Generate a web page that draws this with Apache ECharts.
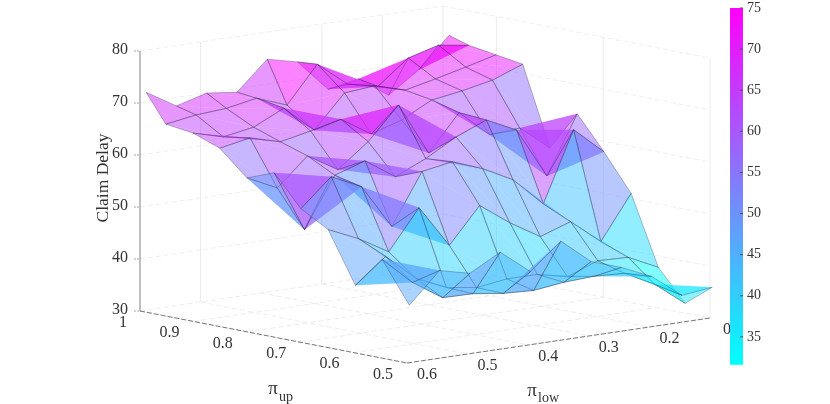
<!DOCTYPE html>
<html>
<head>
<meta charset="utf-8">
<style>html, body { margin: 0; padding: 0; background: #fff; } #chart { width: 830px; height: 404px; }</style>
<script src="https://cdn.jsdelivr.net/npm/echarts@6/dist/echarts.min.js"></script>
</head>
<body>
<div id="chart"></div>
<script>
// surface samples, one row per pi_up value, one column per pi_low value
const piUp = [1, 0.963, 0.912, 0.862, 0.811, 0.76, 0.71, 0.659, 0.608, 0.558, 0.507]
const piLow = [0.59, 0.54, 0.49, 0.44, 0.39, 0.34, 0.29, 0.24, 0.19, 0.14, 0.09]
const row0 = [71.9, 68.4, 70, 69.3, 74.8, 73.4, 67.3, 68.4, 64.4, 68.4, 74.2]
const row1 = [66.5, 67.4, 67.8, 68.9, 66.7, 73.7, 69, 67.7, 72.3, 73.9, 73]
const row2 = [65.8, 64.2, 65.2, 68, 62.9, 69.2, 69.7, 68, 69.3, 70.7, 72.2]
const row3 = [63.9, 65, 63.4, 64.6, 66, 62.3, 64.1, 67.1, 68, 69.2, 71.4]
const row4 = [59.2, 56.4, 61.7, 58.2, 62.7, 68.9, 58.8, 65.7, 60.6, 61, 56.3]
const row5 = [61.2, 49.4, 59, 60.9, 57, 59.6, 62.9, 65.3, 62.5, 52.8, 63.9]
const row6 = [55.3, 60.6, 57.8, 49.3, 59, 60, 57.8, 54.8, 49.3, 62.7, 57.6]
const row7 = [52.3, 49.7, 46.3, 53.9, 45.8, 52.6, 48.4, 44.9, 46.9, 42.2, 50.6]
const row8 = [42.6, 47.3, 42.2, 39.6, 38.7, 39.5, 39.5, 38.2, 40.4, 40.2, 37.4]
const row9 = [48.6, 43.3, 39.5, 39.4, 38.6, 38.3, 39, 39.3, 39, 36, 31.5]
const row10 = [40.8, 46.6, 45.2, 48.4, 43.8, 48.8, 44, 42, 39.4, 34.9, 35.6]
const delay = [row0, row1, row2, row3, row4, row5, row6, row7, row8, row9, row10]

const upTicks = [1, 0.9, 0.8, 0.7, 0.6, 0.5]
const lowTicks = [0.6, 0.5, 0.4, 0.3, 0.2, 0.1]
const lowTickLabels = ['0.6', '0.5', '0.4', '0.3', '0.2', '0']
const delayTicks = [30, 40, 50, 60, 70, 80]
const colorTicks = [35, 40, 45, 50, 55, 60, 65, 70, 75]
const colorMin = 31.6
const colorMax = 75

// fixed view of the box, the same one on every axis
function project (up, low, z) {
  return [
    140 + 606 * (0.6 - low) + 534 * (1 - up),
    311 - 90 * (0.6 - low) + 104 * (1 - up) - 5.2 * (z - 30),
  ]
}

function coolColor (v, alpha) {
  const t = Math.min(1, Math.max(0, (v - colorMin) / (colorMax - colorMin)))
  const r = Math.round(255 * t)
  const g = Math.round(255 * (1 - t))
  return 'rgba(' + r + ',' + g + ',255,' + alpha + ')'
}

// back cells first
const cells = []
for (let i = 0; i < piUp.length - 1; i++) {
  for (let j = 0; j < piLow.length - 1; j++) {
    cells.push([i, j])
  }
}
cells.sort((a, b) => (a[0] - a[1]) - (b[0] - b[1]))

const segments = []
function addSegment (a, b, stroke, lineDash, lineWidth) {
  segments.push({a, b, stroke, lineDash, lineWidth})
}
const faintDash = [5, 3]
delayTicks.forEach(z => {
  if (z > 30) {
    addSegment([1, 0.6, z], [1, 0.1, z], '#f0f0f0', faintDash, 1)
    addSegment([1, 0.1, z], [0.5, 0.1, z], '#f0f0f0', faintDash, 1)
  }
})
;[0.5, 0.3, 0.2, 0.1].forEach(l => addSegment([1, l, 30], [1, l, 80], '#ebebeb', null, 1))
;[0.9, 0.7, 0.5].forEach(u => addSegment([u, 0.1, 30], [u, 0.1, 80], '#ebebeb', null, 1))
upTicks.forEach(u => addSegment([u, 0.6, 30], [u, 0.1, 30], '#ededed', faintDash, 1))
lowTicks.forEach(l => addSegment([1, l, 30], [0.5, l, 30], '#ededed', faintDash, 1))
addSegment([1, 0.6, 30], [1, 0.6, 80], '#808080', null, 1)
addSegment([1, 0.6, 30], [0.5, 0.6, 30], '#777', [5, 2], 1)
addSegment([0.5, 0.6, 30], [0.5, 0.1, 30], '#777', [5, 2], 1)

const texts = []
upTicks.forEach(u => {
  texts.push({at: [u, 0.6, 30], dx: u === 1 ? -17 : -24, dy: 11.5, text: String(u)})
})
lowTicks.forEach((l, k) => {
  texts.push({at: [0.5, l, 30], dx: k === 5 ? 17 : 20, dy: 12, text: lowTickLabels[k]})
})
delayTicks.forEach(z => {
  texts.push({at: [1, 0.6, z], dx: -20, dy: -1, text: String(z)})
})

const chart = echarts.init(document.getElementById('chart'), null, {renderer: 'canvas'})

const labelFont = '"Liberation Serif", "Times New Roman", serif'
const textColor = '#333'

chart.setOption({
  animation: false,
  backgroundColor: '#fff',
  textStyle: {fontFamily: labelFont},
  grid: [
    {left: 0, top: 0, width: 830, height: 404},
    {left: 730, top: 8, width: 13, height: 370},
  ],
  xAxis: [
    {gridIndex: 0, type: 'value', min: 0, max: 830, show: false},
    {gridIndex: 1, type: 'value', min: 0, max: 1, show: false},
  ],
  yAxis: [
    {gridIndex: 0, type: 'value', min: 0, max: 404, inverse: true, show: false},
    {
      gridIndex: 1,
      type: 'value',
      position: 'right',
      min: 30,
      max: 75,
      interval: 5,
      splitLine: {show: false},
      axisLine: {show: false},
      axisTick: {show: false},
      axisLabel: {
        color: textColor,
        fontFamily: labelFont,
        fontSize: 14,
        margin: 4,
        customValues: colorTicks,
      },
    },
  ],
  graphic: [
    {type: 'text', x: 103, y: 178, rotation: Math.PI / 2, style: {text: 'Claim Delay', fill: textColor, font: '17.5px ' + labelFont, textAlign: 'center', textVerticalAlign: 'middle'}},
    {type: 'text', x: 273, y: 389, style: {text: 'π', fill: textColor, font: '19px ' + labelFont, textAlign: 'center', textVerticalAlign: 'middle'}},
    {type: 'text', x: 279, y: 397, style: {text: 'up', fill: textColor, font: '14px ' + labelFont, textAlign: 'left', textVerticalAlign: 'middle'}},
    {type: 'text', x: 532, y: 391, style: {text: 'π', fill: textColor, font: '19px ' + labelFont, textAlign: 'center', textVerticalAlign: 'middle'}},
    {type: 'text', x: 538, y: 398, style: {text: 'low', fill: textColor, font: '14px ' + labelFont, textAlign: 'left', textVerticalAlign: 'middle'}},
  ],
  series: [
    {
      type: 'custom',
      coordinateSystem: 'cartesian2d',
      silent: true,
      clip: false,
      data: segments.map((s, k) => [k, 0]),
      renderItem (params, api) {
        const s = segments[params.dataIndex]
        const a = api.coord(project(s.a[0], s.a[1], s.a[2]))
        const b = api.coord(project(s.b[0], s.b[1], s.b[2]))
        return {
          type: 'line',
          shape: {x1: a[0], y1: a[1], x2: b[0], y2: b[1]},
          style: {stroke: s.stroke, lineWidth: s.lineWidth, lineDash: s.lineDash},
        }
      },
    },
    {
      type: 'custom',
      coordinateSystem: 'cartesian2d',
      silent: true,
      clip: false,
      data: cells,
      renderItem (params, api) {
        const i = cells[params.dataIndex][0]
        const j = cells[params.dataIndex][1]
        const corner = (r, c) => api.coord(project(piUp[r], piLow[c], delay[r][c]))
        const p00 = corner(i, j)
        const p01 = corner(i, j + 1)
        const p11 = corner(i + 1, j + 1)
        const p10 = corner(i + 1, j)
        const fill = coolColor(delay[i + 1][j + 1], 0.5)
        return {
          type: 'group',
          children: [
            {type: 'polygon', shape: {points: [p00, p10, p11]}, style: {fill, stroke: null}},
            {type: 'polygon', shape: {points: [p00, p01, p11]}, style: {fill, stroke: null}},
            {type: 'polygon', shape: {points: [p00, p01, p11, p10]}, style: {fill: null, stroke: 'rgba(30,30,50,0.5)', lineWidth: 0.6}},
          ],
        }
      },
    },
    {
      type: 'custom',
      coordinateSystem: 'cartesian2d',
      silent: true,
      clip: false,
      data: texts.map((t, k) => [k, 0]),
      renderItem (params, api) {
        const t = texts[params.dataIndex]
        const p = api.coord(project(t.at[0], t.at[1], t.at[2]))
        return {
          type: 'text',
          x: p[0] + t.dx,
          y: p[1] + t.dy,
          style: {text: t.text, fill: textColor, font: '16px ' + labelFont, textAlign: 'center', textVerticalAlign: 'middle'},
        }
      },
    },
    {
      // z axis tick marks
      type: 'custom',
      coordinateSystem: 'cartesian2d',
      silent: true,
      clip: false,
      data: delayTicks.map(z => [z, 0]),
      renderItem (params, api) {
        const p = api.coord(project(1, 0.6, delayTicks[params.dataIndex]))
        return {
          type: 'line',
          shape: {x1: p[0] - 6, y1: p[1], x2: p[0], y2: p[1]},
          style: {stroke: '#aaa', lineWidth: 1, lineDash: [2, 1]},
        }
      },
    },
    {
      // colorbar
      type: 'custom',
      xAxisIndex: 1,
      yAxisIndex: 1,
      coordinateSystem: 'cartesian2d',
      silent: true,
      data: [[0, colorMin]],
      renderItem (params, api) {
        const lo = api.coord([0, colorMin])
        const hi = api.coord([1, colorMax])
        const children = [{
          type: 'rect',
          shape: {x: lo[0], y: hi[1], width: hi[0] - lo[0], height: lo[1] - hi[1]},
          style: {
            fill: new echarts.graphic.LinearGradient(0, 0, 0, 1, [
              {offset: 0, color: coolColor(colorMax, 1)},
              {offset: 1, color: coolColor(colorMin, 1)},
            ]),
          },
        }]
        colorTicks.forEach(v => {
          const p = api.coord([1, v])
          children.push({
            type: 'line',
            shape: {x1: p[0] - 3, y1: p[1], x2: p[0], y2: p[1]},
            style: {stroke: '#555', lineWidth: 1},
          })
        })
        return {type: 'group', children}
      },
    },
  ],
})
</script>
</body>
</html>
